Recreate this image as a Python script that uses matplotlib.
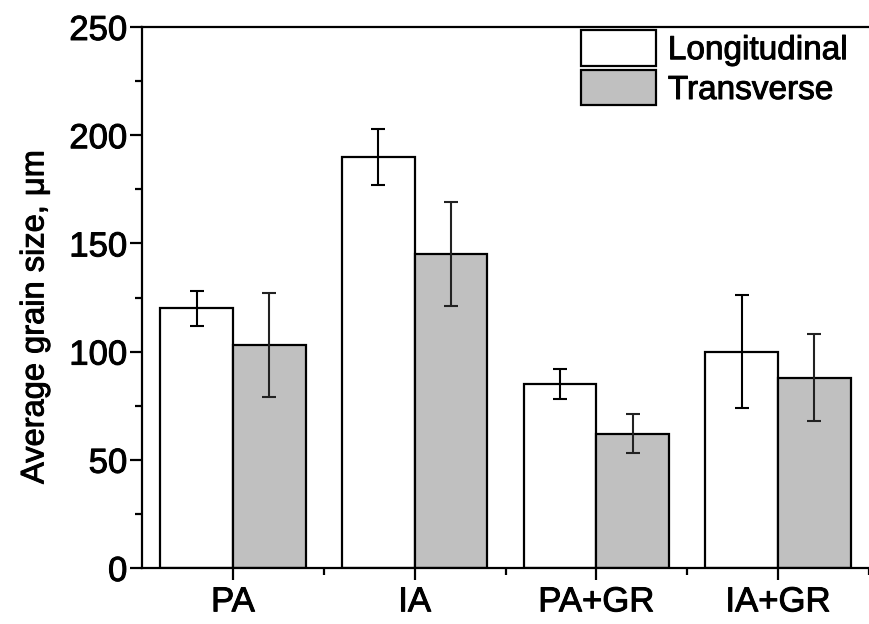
import numpy as np
import matplotlib.pyplot as plt
import matplotlib.patheffects as pe

plt.rcParams['font.family'] = ['Liberation Sans', 'DejaVu Sans']

# values
treatments = ['PA', 'IA', 'PA+GR', 'IA+GR']
longitudinal = [120, 190, 85, 100]
longitudinal_err = [8, 13, 7, 26]
transverse = [103, 145, 62, 88]
transverse_err = [24, 24, 9, 20]

x = np.arange(1, len(treatments) + 1)
w = 0.4
thick = [pe.withStroke(linewidth=0.7, foreground='black')]

fig = plt.figure(figsize=(8.69, 6.24), dpi=100)
ax = fig.add_axes([142 / 869, 1 - 568 / 624, 1 - 142 / 869, (568 - 27) / 624])

ax.bar(x - w / 2, longitudinal, w, color='white', edgecolor='black',
       linewidth=1.6, label='Longitudinal', zorder=2)
ax.bar(x + w / 2, transverse, w, color='#c0c0c0', edgecolor='black',
       linewidth=1.6, label='Transverse', zorder=2)
ax.errorbar(x - w / 2, longitudinal, yerr=longitudinal_err, fmt='none',
            ecolor='black', elinewidth=1.5, capsize=5, capthick=1.5, zorder=3)
ax.errorbar(x + w / 2, transverse, yerr=transverse_err, fmt='none',
            ecolor='#222222', elinewidth=1.5, capsize=5, capthick=1.5, zorder=3)

ax.set_xlim(0.5, 0.5 + (869 - 142) / 183.3)
ax.set_ylim(0, 250)
ax.set_xticks(x)
ax.set_xticklabels(treatments)
ax.set_xticks(x + 0.5, minor=True)
ax.set_yticks(np.arange(0, 251, 50))
ax.set_yticks(np.arange(25, 250, 50), minor=True)

ax.spines['right'].set_visible(False)
for s in ['left', 'bottom', 'top']:
    ax.spines[s].set_linewidth(1.6)

ax.tick_params(axis='both', which='major', direction='out', length=8.5, width=1.6,
               labelsize=25, pad=2)
ax.tick_params(axis='both', which='minor', direction='out', length=5, width=1.6)
ax.tick_params(axis='x', which='major', pad=4)

ax.set_ylabel('Average grain size, μm', fontsize=23.5)
ax.yaxis.set_label_coords(-0.126, 0.464)

leg = ax.legend(loc='upper right', bbox_to_anchor=(0.975, 1.0), frameon=False,
                fontsize=24, handlelength=2.25, handleheight=1.25,
                handletextpad=0.35, labelspacing=0.12, borderaxespad=0.0,
                borderpad=0.1)

for t in ax.get_xticklabels() + ax.get_yticklabels() + leg.get_texts() + [ax.yaxis.label]:
    t.set_path_effects(thick)

fig.savefig('out.png', dpi=100)
